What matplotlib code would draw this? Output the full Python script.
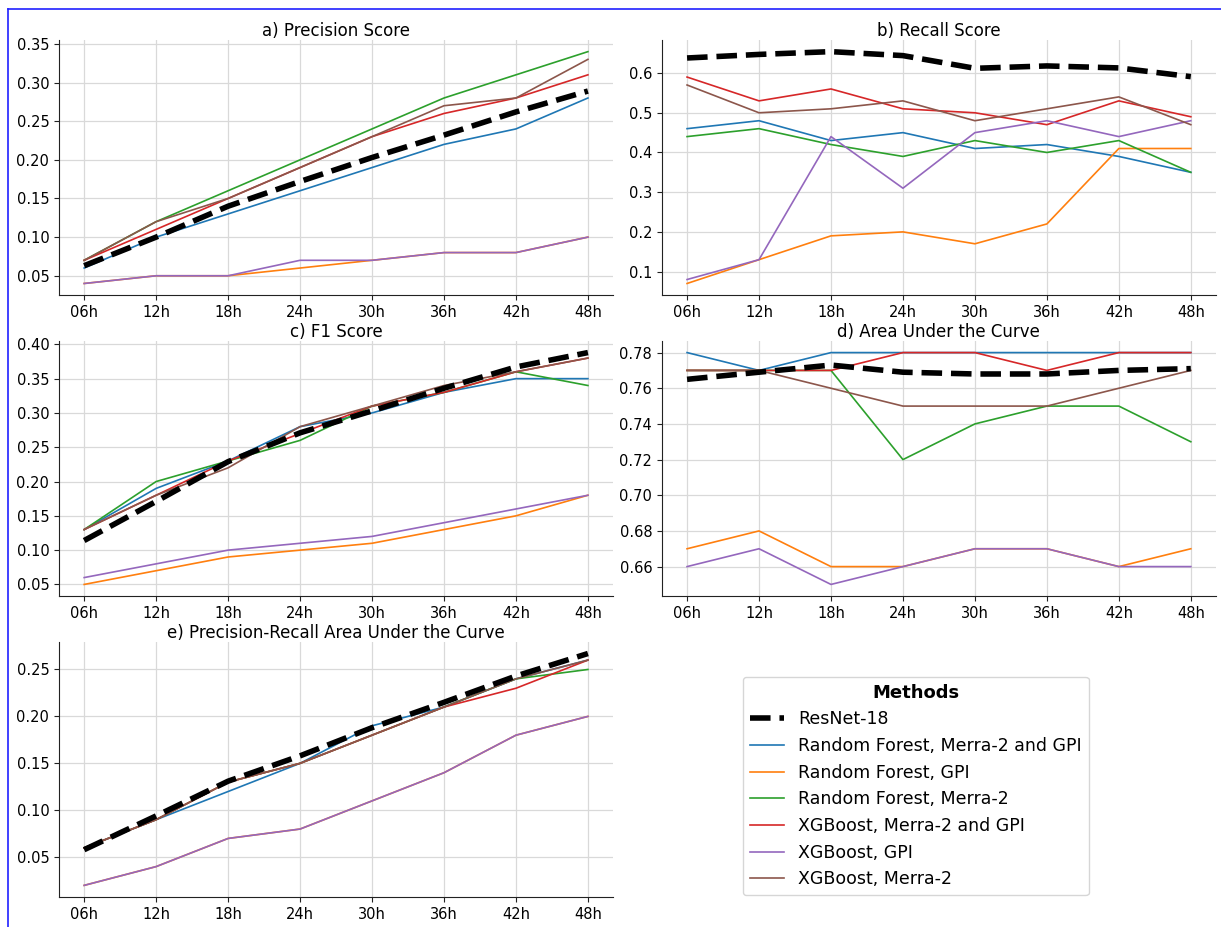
import matplotlib
matplotlib.use("Agg")
import matplotlib.pyplot as plt
from matplotlib.lines import Line2D

# lead times
hours = ["06h", "12h", "18h", "24h", "30h", "36h", "42h", "48h"]

methods = [
    "Random Forest, Merra-2 and GPI",
    "Random Forest, GPI",
    "Random Forest, Merra-2",
    "XGBoost, Merra-2 and GPI",
    "XGBoost, GPI",
    "XGBoost, Merra-2",
]
colors = ["tab:blue", "tab:orange", "tab:green", "tab:red", "tab:purple", "tab:brown"]

# a) precision
prec_resnet = [0.063, 0.100, 0.140, 0.172, 0.203, 0.232, 0.262, 0.289]
prec_rf_all = [0.06, 0.10, 0.13, 0.16, 0.19, 0.22, 0.24, 0.28]
prec_rf_gpi = [0.04, 0.05, 0.05, 0.06, 0.07, 0.08, 0.08, 0.10]
prec_rf_merra = [0.07, 0.12, 0.16, 0.20, 0.24, 0.28, 0.31, 0.34]
prec_xgb_all = [0.07, 0.11, 0.15, 0.19, 0.23, 0.26, 0.28, 0.31]
prec_xgb_gpi = [0.04, 0.05, 0.05, 0.07, 0.07, 0.08, 0.08, 0.10]
prec_xgb_merra = [0.07, 0.12, 0.15, 0.19, 0.23, 0.27, 0.28, 0.33]

# b) recall
rec_resnet = [0.638, 0.647, 0.654, 0.644, 0.612, 0.618, 0.613, 0.591]
rec_rf_all = [0.46, 0.48, 0.43, 0.45, 0.41, 0.42, 0.39, 0.35]
rec_rf_gpi = [0.07, 0.13, 0.19, 0.20, 0.17, 0.22, 0.41, 0.41]
rec_rf_merra = [0.44, 0.46, 0.42, 0.39, 0.43, 0.40, 0.43, 0.35]
rec_xgb_all = [0.59, 0.53, 0.56, 0.51, 0.50, 0.47, 0.53, 0.49]
rec_xgb_gpi = [0.08, 0.13, 0.44, 0.31, 0.45, 0.48, 0.44, 0.48]
rec_xgb_merra = [0.57, 0.50, 0.51, 0.53, 0.48, 0.51, 0.54, 0.47]

# c) F1
f1_resnet = [0.114, 0.171, 0.229, 0.271, 0.303, 0.336, 0.367, 0.388]
f1_rf_all = [0.13, 0.19, 0.23, 0.28, 0.30, 0.33, 0.35, 0.35]
f1_rf_gpi = [0.05, 0.07, 0.09, 0.10, 0.11, 0.13, 0.15, 0.18]
f1_rf_merra = [0.13, 0.20, 0.23, 0.26, 0.31, 0.33, 0.36, 0.34]
f1_xgb_all = [0.13, 0.18, 0.23, 0.27, 0.31, 0.33, 0.36, 0.38]
f1_xgb_gpi = [0.06, 0.08, 0.10, 0.11, 0.12, 0.14, 0.16, 0.18]
f1_xgb_merra = [0.13, 0.18, 0.22, 0.28, 0.31, 0.34, 0.36, 0.38]

# d) AUC
auc_resnet = [0.765, 0.769, 0.773, 0.769, 0.768, 0.768, 0.770, 0.771]
auc_rf_all = [0.78, 0.77, 0.78, 0.78, 0.78, 0.78, 0.78, 0.78]
auc_rf_gpi = [0.67, 0.68, 0.66, 0.66, 0.67, 0.67, 0.66, 0.67]
auc_rf_merra = [0.77, 0.77, 0.77, 0.72, 0.74, 0.75, 0.75, 0.73]
auc_xgb_all = [0.77, 0.77, 0.77, 0.78, 0.78, 0.77, 0.78, 0.78]
auc_xgb_gpi = [0.66, 0.67, 0.65, 0.66, 0.67, 0.67, 0.66, 0.66]
auc_xgb_merra = [0.77, 0.77, 0.76, 0.75, 0.75, 0.75, 0.76, 0.77]

# e) PR-AUC
prauc_resnet = [0.058, 0.094, 0.131, 0.158, 0.188, 0.215, 0.243, 0.267]
prauc_rf_all = [0.06, 0.09, 0.12, 0.15, 0.19, 0.21, 0.24, 0.26]
prauc_rf_gpi = [0.02, 0.04, 0.07, 0.08, 0.11, 0.14, 0.18, 0.20]
prauc_rf_merra = [0.06, 0.09, 0.13, 0.15, 0.18, 0.21, 0.24, 0.25]
prauc_xgb_all = [0.06, 0.09, 0.13, 0.15, 0.18, 0.21, 0.23, 0.26]
prauc_xgb_gpi = [0.02, 0.04, 0.07, 0.08, 0.11, 0.14, 0.18, 0.20]
prauc_xgb_merra = [0.06, 0.09, 0.13, 0.15, 0.18, 0.21, 0.24, 0.26]

panels = [
    ("a) Precision Score", prec_resnet,
     [prec_rf_all, prec_rf_gpi, prec_rf_merra, prec_xgb_all, prec_xgb_gpi, prec_xgb_merra]),
    ("b) Recall Score", rec_resnet,
     [rec_rf_all, rec_rf_gpi, rec_rf_merra, rec_xgb_all, rec_xgb_gpi, rec_xgb_merra]),
    ("c) F1 Score", f1_resnet,
     [f1_rf_all, f1_rf_gpi, f1_rf_merra, f1_xgb_all, f1_xgb_gpi, f1_xgb_merra]),
    ("d) Area Under the Curve", auc_resnet,
     [auc_rf_all, auc_rf_gpi, auc_rf_merra, auc_xgb_all, auc_xgb_gpi, auc_xgb_merra]),
    ("e) Precision-Recall Area Under the Curve", prauc_resnet,
     [prauc_rf_all, prauc_rf_gpi, prauc_rf_merra, prauc_xgb_all, prauc_xgb_gpi, prauc_xgb_merra]),
]

fig, axes = plt.subplots(3, 2, figsize=(12.21, 9.27), dpi=100)
fig.subplots_adjust(left=0.0483, right=0.9959, top=0.9568, bottom=0.0324,
                    wspace=0.088, hspace=0.18)

for ax, (title, resnet, others) in zip(axes.flat, panels):
    ax.plot(hours, resnet, color="black", linestyle="--", linewidth=4,
            label="ResNet-18", zorder=3)
    for vals, name, c in zip(others, methods, colors):
        ax.plot(hours, vals, color=c, linewidth=1.2, label=name, zorder=2)
    ax.set_title(title, fontsize=12, pad=2.5)
    ax.grid(True, color="#d9d9d9", linewidth=0.9)
    ax.set_axisbelow(True)
    ax.tick_params(labelsize=10.5, colors="#222222", labelcolor="black")
    for side in ["top", "right"]:
        ax.spines[side].set_visible(False)
    for side in ["left", "bottom"]:
        ax.spines[side].set_color("#222222")

axes[2, 1].axis("off")
handles, labels = axes[0, 0].get_legend_handles_labels()
leg = fig.legend(handles, labels, loc="center", bbox_to_anchor=(0.750, 0.152),
                 title="Methods", fontsize=12.5, frameon=True)
leg.get_title().set_fontweight("bold")
leg.get_title().set_fontsize(13)

# blue frame edges along top and left
fig.add_artist(Line2D([8 / 1221, 1.0], [1 - 9 / 927, 1 - 9 / 927],
                      transform=fig.transFigure, color="#2020ff", linewidth=1.2))
fig.add_artist(Line2D([8 / 1221, 8 / 1221], [0.0, 1 - 9 / 927],
                      transform=fig.transFigure, color="#2020ff", linewidth=1.2))

fig.savefig("out.png", dpi=100)
